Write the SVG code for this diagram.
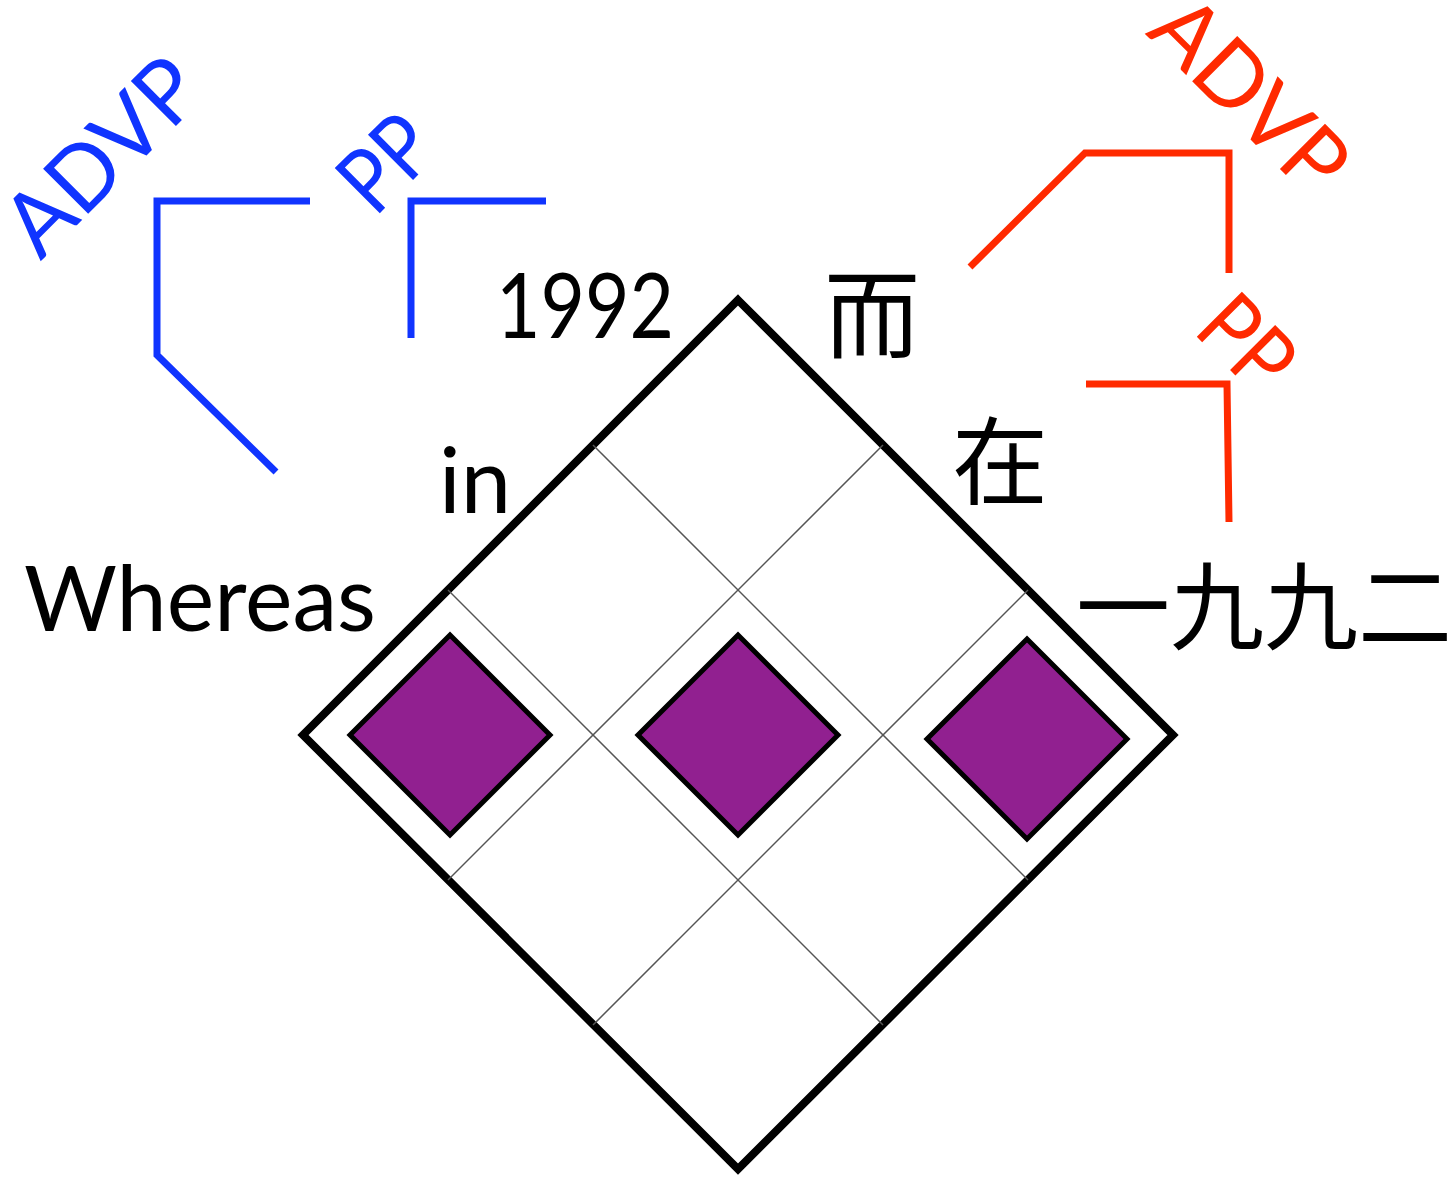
<svg xmlns="http://www.w3.org/2000/svg" width="1454" height="1178" viewBox="0 0 1454 1178">
<style>
.word{font-family:"Lato","Open Sans","Noto Sans",sans-serif;font-size:92px;fill:#000}
.cjk{font-family:"Noto Sans CJK SC","Noto Sans CJK JP",sans-serif;font-size:96px;fill:#000}
.lbl{font-family:"Lato","Open Sans","Noto Sans",sans-serif;font-size:89px;text-anchor:middle}
.blue{fill:#1034FF}
.red{fill:#FF2A00}
.grid{stroke:#555;stroke-width:1.5;fill:none}
.cell{fill:#912090;stroke:#000;stroke-width:5;stroke-linejoin:miter}
.br{fill:none;stroke-width:7;stroke-linejoin:miter;stroke-linecap:butt}
</style>
<rect width="1454" height="1178" fill="#fff"/>
<g id="matrix">
<polygon points="738,300 1173,735 738,1169 303,735" fill="#fff" stroke="#000" stroke-width="8" stroke-linejoin="miter"/>
<g class="grid">
<line x1="448" y1="590" x2="883" y2="1025"/>
<line x1="593" y1="445" x2="1028" y2="880"/>
<line x1="448" y1="880" x2="883" y2="445"/>
<line x1="593" y1="1025" x2="1028" y2="590"/>
</g>
</g>
<g id="cell-1"><polygon class="cell" points="450,635 550,735 450,835 350,735"/></g>
<g id="cell-2"><polygon class="cell" points="738,635 838,735 738,835 638,735"/></g>
<g id="cell-3"><polygon class="cell" points="1027,639 1127,739 1027,839 927,739"/></g>
<g id="connectors">
<polyline class="br" stroke="#1034FF" points="310,201 157,201 157,355 276,472"/>
<polyline class="br" stroke="#1034FF" points="546,201 411,201 411,338"/>
<polyline class="br" stroke="#FF2A00" points="970,267 1085,153 1229,153 1229,273"/>
<polyline class="br" stroke="#FF2A00" points="1086,384 1227,384 1229,522"/>
</g>
<g id="en-whereas"><text class="word" x="24" y="631" textLength="352" lengthAdjust="spacingAndGlyphs">Whereas</text></g>
<g id="en-in"><text class="word" x="439" y="513" textLength="72" lengthAdjust="spacingAndGlyphs">in</text></g>
<g id="en-1992"><text class="word" x="496" y="338" textLength="178" lengthAdjust="spacingAndGlyphs">1992</text></g>
<g id="zh-er"><text class="cjk" x="872" y="350" text-anchor="middle">而</text></g>
<g id="zh-zai"><text class="cjk" x="1000" y="497" text-anchor="middle">在</text></g>
<g id="zh-1992"><text class="cjk" x="1076" y="642" textLength="376" lengthAdjust="spacingAndGlyphs">一九九二</text></g>
<g id="label-en-advp"><text class="lbl blue" transform="translate(124,178) rotate(-45)" textLength="236" lengthAdjust="spacingAndGlyphs">ADVP</text></g>
<g id="label-en-pp"><text class="lbl blue" transform="translate(408,185) rotate(-45)" textLength="94" lengthAdjust="spacingAndGlyphs">PP</text></g>
<g id="label-zh-advp"><text class="lbl red" transform="translate(1228,117) rotate(45)" textLength="236" lengthAdjust="spacingAndGlyphs">ADVP</text></g>
<g id="label-zh-pp"><text class="lbl red" transform="translate(1225,365) rotate(45)" textLength="94" lengthAdjust="spacingAndGlyphs">PP</text></g>
</svg>
